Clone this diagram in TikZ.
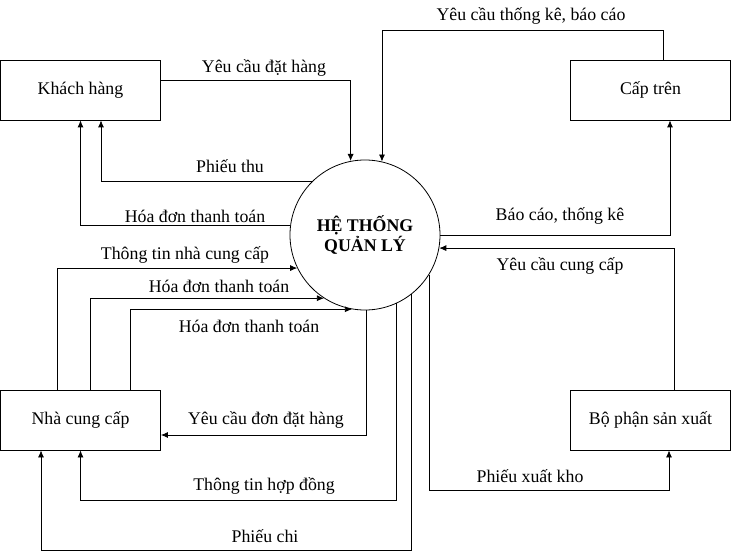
\documentclass[tikz,border=0pt]{standalone}
\usepackage{fontspec}
\setmainfont{Liberation Serif}
\usetikzlibrary{arrows.meta}
\begin{document}
\begin{tikzpicture}[
  rectblock/.style = {rectangle, draw, inner sep = 0pt, align = flush center, minimum width = 160pt, minimum height = 60pt},
  circleblock/.style = {circle, draw, inner sep = 0pt, align = flush center, minimum size = 150pt, font = \fontsize{17.8}{20}\selectfont\bfseries},
  flowlabel/.style = {inner sep = 0pt},
  x = 1pt,
  y = -1pt,
  line width = 0.8pt,
  font = \fontsize{17.8}{20}\selectfont,
  > = {Latex[length = 7pt, width = 6pt]}
]
  \useasboundingbox (0, 0) rectangle (731, 559);
  \node[rectblock]   (kh)   at (80.5, 90)   {Khách hàng};
  \node[rectblock]   (ct)   at (650.5, 90)  {Cấp trên};
  \node[rectblock]   (ncc)  at (80.5, 420)  {Nhà cung cấp};
  \node[rectblock]   (bpsx) at (650.5, 420) {Bộ phận sản xuất};
  \node[circleblock] (ht)   at (365, 235)   {HỆ THỐNG\\QUẢN LÝ};

  \node[flowlabel] (ycdh)  at (264, 68)  {Yêu cầu đặt hàng};
  \node[flowlabel] (ycbc)  at (531, 16)  {Yêu cầu thống kê, báo cáo};
  \node[flowlabel] (pthu)  at (230, 166) {Phiếu thu};
  \node[flowlabel] (hdkh)  at (195, 216) {Hóa đơn thanh toán};
  \node[flowlabel] (bctk)  at (560, 216) {Báo cáo, thống kê};
  \node[flowlabel] (ttncc) at (185, 255) {Thông tin nhà cung cấp};
  \node[flowlabel] (yccc)  at (560, 266) {Yêu cầu cung cấp};
  \node[flowlabel] (hdn1)  at (219, 286) {Hóa đơn thanh toán};
  \node[flowlabel] (hdn2)  at (249, 326) {Hóa đơn thanh toán};
  \node[flowlabel] (ycddh) at (266, 420) {Yêu cầu đơn đặt hàng};
  \node[flowlabel] (pxk)   at (530, 476) {Phiếu xuất kho};
  \node[flowlabel] (tthd)  at (264, 486) {Thông tin hợp đồng};
  \node[flowlabel] (pchi)  at (265, 536) {Phiếu chi};

  \draw[->] ([yshift = 10pt]kh.east) -| (ht.101.5);
  \draw[->] (ht.135) -| ([xshift = 20.5pt]kh.south);
  \draw[->] (ht.173.6) -| (kh.south);
  \draw[->] ([xshift = 13pt]ct.north) -- ++(0, -29) -| (ht.77.7);
  \draw[->] (ht.-0.8) -| ([xshift = 19.5pt]ct.south);
  \draw[->] ([xshift = 23.5pt]bpsx.north) |- (ht.-10.8);
  \draw[->] ([xshift = -23.5pt]ncc.north) |- (ht.206.1);
  \draw[->] ([xshift = 9.5pt]ncc.north) |- (ht.237.1);
  \draw[->] ([xshift = 49.5pt]ncc.north) |- (ht.260);
  \draw[->] (ht.-89) |- ([yshift = -15pt]ncc.east);
  \draw[->] (ht.-65.6) |- ([yshift = -50pt]ncc.south) -- (ncc.south);
  \draw[->] (ht.-52.2) |- ([xshift = -39.5pt, yshift = -100pt]ncc.south) -- ([xshift = -39.5pt]ncc.south);
  \draw[->] (ht.-32.9) |- ([xshift = 18.5pt, yshift = -40pt]bpsx.south) -- ([xshift = 18.5pt]bpsx.south);
\end{tikzpicture}
\end{document}
